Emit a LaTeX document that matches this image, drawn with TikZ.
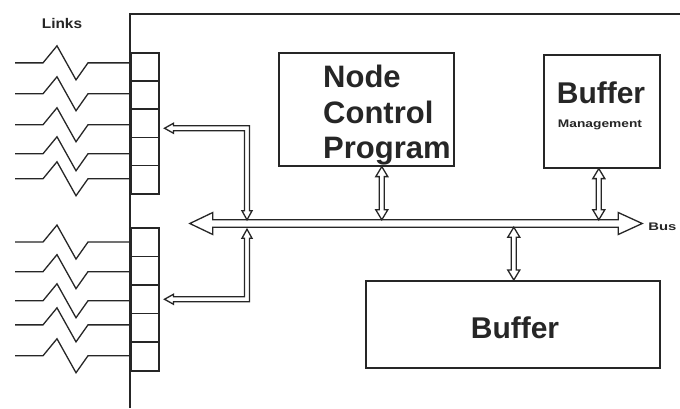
\documentclass[tikz,border=0pt]{standalone}
\usepackage{fontspec}
\setmainfont{Liberation Sans}
\usetikzlibrary{calc}
\definecolor{ink}{HTML}{262626}
\tikzset{
  frameline/.style={draw=ink, line width=1.8pt},
  portbox/.style={draw=ink, line width=1.5pt, minimum width=28pt, inner sep=0pt, anchor=north west},
  blockbox/.style={draw=ink, line width=1.6pt, inner sep=0pt, anchor=north west},
  linkline/.style={draw=ink, line width=1.3pt, line join=miter},
  arr/.style={draw=ink, line width=1.3pt, fill=white, line join=miter},
  bigtxt/.style={inner sep=0pt, text=ink, font=\fontsize{31}{35}\selectfont\bfseries},
  smalltxt/.style={inner sep=0pt, text=ink, font=\fontsize{11}{13}\selectfont\bfseries}
}
\newcommand\vdarr[2]{%
  \draw[arr] let \p1=#1, \p2=#2 in
    (\x1,\y1) -- (\x1+6pt,\y1-10pt) -- (\x1+2.5pt,\y1-10pt) -- (\x1+2.5pt,\y2+10pt)
    -- (\x1+6pt,\y2+10pt) -- (\x1,\y2) -- (\x1-6pt,\y2+10pt) -- (\x1-2.5pt,\y2+10pt)
    -- (\x1-2.5pt,\y1-10pt) -- (\x1-6pt,\y1-10pt) -- cycle;}
\begin{document}
\begin{tikzpicture}[x=1pt,y=-1pt]
\useasboundingbox (0,0) rectangle (680,408);
\fill[white] (0,0) rectangle (680,408);

% outer frame (cropped)
\draw[frameline] (130,408) -- (130,14) -- (680,14);

% ports
\foreach \i in {1,...,5} {
  \node[portbox, minimum height=28.2pt] (p\i) at (130,{52+28.2*(\i-1)}) {};
}
\foreach \i in {6,...,10} {
  \node[portbox, minimum height=28.6pt] (p\i) at (130,{227+28.6*(\i-6)}) {};
}

% links
\foreach \p/\dy in {p1/-4, p2/-1.3, p3/1.5, p4/2.3, p5/-0.9, p6/0, p7/1, p8/1.5, p9/-3, p10/-0.7} {
  \draw[linkline] ($(\p.west)+(0,\dy)$) -- ++(-42,0) -- ++(-12,17) -- ++(-19,-34) -- ++(-14,17) -- ++(-28,0);
}
\node[smalltxt, font=\fontsize{14}{16}\selectfont\bfseries, anchor=base] (links) at (62,28) {\scalebox{1.1}[1]{Links}};

% blocks
\node[blockbox, minimum width=175pt, minimum height=113pt] (ncp) at (278,52) {};
\node[bigtxt, anchor=base west] (ncp1) at (323,87) {Node};
\node[bigtxt, anchor=base west] (ncp2) at (323,123) {Control};
\node[bigtxt, anchor=base west] (ncp3) at (323,158) {Program};

\node[blockbox, minimum width=116pt, minimum height=113pt] (bm) at (543,54) {};
\node[bigtxt, anchor=base, font=\fontsize{30}{34}\selectfont\bfseries] (bm1) at (601,103) {Buffer};
\node[smalltxt, anchor=base] (bm2) at (600,127) {\scalebox{1.25}[1]{Management}};

\node[blockbox, minimum width=294pt, minimum height=87pt] (buf) at (365,280) {};
\node[bigtxt, anchor=base, font=\fontsize{30}{34}\selectfont\bfseries] (buf1) at (515,338) {Buffer};

% bus
\node[inner sep=0pt, minimum width=452pt, minimum height=7pt] (bus) at (416,223.5) {};
\coordinate (busA) at (247,223.5);
\draw[arr] let \p1=(bus.west), \p2=(bus.east), \p3=(bus.north), \p4=(bus.south) in
  (\x1,\y1) -- (\x1+23pt,\y1+11pt) -- (\x1+23pt,\y3) -- (\x2-24pt,\y3) -- (\x2-24pt,\y2+11pt)
  -- (\x2,\y2) -- (\x2-24pt,\y2-11pt) -- (\x2-24pt,\y4) -- (\x1+23pt,\y4) -- (\x1+23pt,\y1-11pt) -- cycle;
\node[smalltxt, anchor=west] (buslbl) at ($(bus.east)+(6,3)$) {\scalebox{1.35}[1]{Bus}};

% vertical connectors
\vdarr{($(ncp.south)+(15.5,0)$)}{(bus.north)}
\vdarr{($(bm.south)+(-3,0)$)}{(bus.north)}
\vdarr{($(buf.north |- bus.south)+(1,0)$)}{($(buf.north)+(1,0)$)}

% port connectors (L-shaped)
\draw[arr] let \p1=($(p3.east)+(5,5)$), \p2=(busA), \p3=(bus.north) in
  (\x1,\y1) -- (\x1+9pt,\y1+5pt) -- (\x1+9pt,\y1+2.5pt) -- (\x2+2.5pt,\y1+2.5pt)
  -- (\x2+2.5pt,\y3+9pt) -- (\x2+5pt,\y3+9pt) -- (\x2,\y3) -- (\x2-5pt,\y3+9pt)
  -- (\x2-2.5pt,\y3+9pt) -- (\x2-2.5pt,\y1-2.5pt) -- (\x1+9pt,\y1-2.5pt) -- (\x1+9pt,\y1-5pt) -- cycle;
\draw[arr] let \p1=($(p8.east)+(5,0)$), \p2=(busA), \p3=($(bus.south)+(0,2)$) in
  (\x1,\y1) -- (\x1+9pt,\y1+5pt) -- (\x1+9pt,\y1+2.5pt) -- (\x2-2.5pt,\y1+2.5pt)
  -- (\x2-2.5pt,\y3-9pt) -- (\x2-5pt,\y3-9pt) -- (\x2,\y3) -- (\x2+5pt,\y3-9pt)
  -- (\x2+2.5pt,\y3-9pt) -- (\x2+2.5pt,\y1-2.5pt) -- (\x1+9pt,\y1-2.5pt) -- (\x1+9pt,\y1-5pt) -- cycle;
\end{tikzpicture}
\end{document}
